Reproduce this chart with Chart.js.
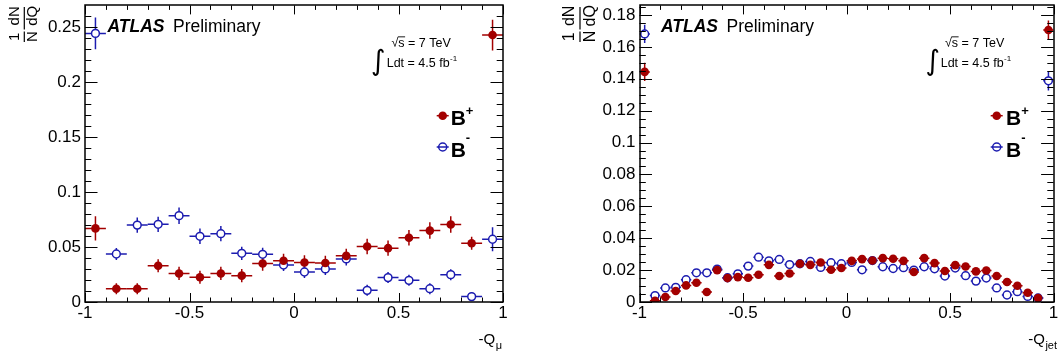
<!DOCTYPE html>
<html><head><meta charset="utf-8">
<script src="https://cdn.jsdelivr.net/npm/chart.js@4.4.0/dist/chart.umd.min.js"></script>
<style>
html,body{margin:0;padding:0;background:#fff;overflow:hidden}
#wrap{position:relative;width:1059px;height:361px;background:#fff}
canvas{position:absolute;top:0}
</style></head><body>
<div id="wrap">
<canvas id="c1" width="530" height="361" style="left:0px"></canvas>
<canvas id="c2" width="529" height="361" style="left:530px"></canvas>
</div>
<script>
// ---------- data: left panel (-Q_mu), 20 bins ----------
const muBins = [-0.95,-0.85,-0.75,-0.65,-0.55,-0.45,-0.35,-0.25,-0.15,-0.05,0.05,0.15,0.25,0.35,0.45,0.55,0.65,0.75,0.85,0.95];
const muBplus = [0.067,0.012,0.012,0.033,0.026,0.0225,0.026,0.024,0.035,0.0375,0.036,0.0355,0.042,0.0505,0.049,0.0585,0.065,0.0705,0.0535,0.243];
const muBplusErr = [0.011,0.005,0.005,0.006,0.006,0.006,0.006,0.006,0.0065,0.0065,0.0065,0.0065,0.0065,0.007,0.007,0.007,0.0075,0.0075,0.006,0.014];
const muBminus = [0.2445,0.0437,0.070,0.0707,0.0786,0.0598,0.0622,0.0443,0.0434,0.0337,0.0273,0.0301,0.0392,0.0106,0.0222,0.0197,0.0121,0.0249,0.0049,0.0571];
const muBminusErr = [0.0145,0.0055,0.007,0.007,0.0075,0.007,0.007,0.006,0.006,0.0055,0.0055,0.0055,0.006,0.005,0.005,0.005,0.005,0.005,0.004,0.011];

// ---------- data: right panel (-Q_jet), 40 bins ----------
const jetBins = [-0.975,-0.925,-0.875,-0.825,-0.775,-0.725,-0.675,-0.625,-0.575,-0.525,-0.475,-0.425,-0.375,-0.325,-0.275,-0.225,-0.175,-0.125,-0.075,-0.025,
                 0.025,0.075,0.125,0.175,0.225,0.275,0.325,0.375,0.425,0.475,0.525,0.575,0.625,0.675,0.725,0.775,0.825,0.875,0.925,0.975];
const jetBplus = [0.1443,0.0008,0.0031,0.0069,0.0104,0.0121,0.0063,0.0200,0.0150,0.0156,0.0152,0.0171,0.0233,0.0163,0.0179,0.0240,0.0233,0.0248,0.0202,0.0213,
                  0.0258,0.0269,0.0260,0.0275,0.0271,0.0258,0.0188,0.0275,0.0244,0.0194,0.0231,0.0223,0.0192,0.0198,0.0163,0.0125,0.0102,0.0058,0.0025,0.1706];
const jetBplusErr = [0.0057,0.0008,0.0012,0.0012,0.0012,0.0012,0.0012,0.0012,0.0012,0.0012,0.0012,0.0012,0.0012,0.0012,0.0012,0.0012,0.0012,0.0012,0.0012,0.0012,
                     0.0012,0.0012,0.0012,0.0012,0.0012,0.0012,0.0012,0.0012,0.0012,0.0012,0.0012,0.0012,0.0012,0.0012,0.0012,0.0012,0.0012,0.0012,0.0010,0.006];
const jetBminus = [0.1681,0.0040,0.0088,0.0092,0.0140,0.0183,0.0183,0.0206,0.0152,0.0177,0.0225,0.0281,0.0258,0.0267,0.0235,0.0240,0.0254,0.0217,0.0246,0.0240,
                   0.0248,0.0202,0.0260,0.0221,0.0210,0.0215,0.0200,0.0221,0.0208,0.0163,0.0213,0.0165,0.0131,0.0150,0.0088,0.0044,0.0065,0.0035,0.0025,0.1387];
const jetBminusErr = [0.0057,0.0010,0.0012,0.0012,0.0012,0.0012,0.0012,0.0012,0.0012,0.0012,0.0012,0.0012,0.0012,0.0012,0.0012,0.0012,0.0012,0.0012,0.0012,0.0012,
                      0.0012,0.0012,0.0012,0.0012,0.0012,0.0012,0.0012,0.0012,0.0012,0.0012,0.0012,0.0012,0.0012,0.0012,0.0012,0.0012,0.0012,0.0012,0.0010,0.006];

// ---------- ticks ----------
const xTickValues = [-1,-0.5,0,0.5,1];
const xTickLabels = ['-1','-0.5','0','0.5','1'];
const muYTickValues = [0,0.05,0.1,0.15,0.2,0.25];
const muYTickLabels = ['0','0.05','0.1','0.15','0.2','0.25'];
const jetYTickValues = [0,0.02,0.04,0.06,0.08,0.1,0.12,0.14,0.16,0.18];
const jetYTickLabels = ['0','0.02','0.04','0.06','0.08','0.1','0.12','0.14','0.16','0.18'];

const FONT = '"Liberation Sans", Arial, Helvetica, sans-serif';
const RED = '#a30000';
const BLUE = '#1c1cb0';

function minorList(min, max, step) {
  const out = [];
  const n = Math.round((max - min) / step);
  for (let i = 0; i <= n; i++) out.push(Math.round((min + i * step) * 10000) / 10000);
  return out;
}

const errorBarPlugin = {
  id: 'errbars',
  beforeDatasetsDraw(chart) {
    const c = chart.ctx, a = chart.chartArea;
    const xs = chart.scales.x, ys = chart.scales.y;
    c.save();
    c.beginPath(); c.rect(a.left, a.top, a.right - a.left, a.bottom - a.top); c.clip();
    c.lineWidth = 1.5;
    chart.data.datasets.forEach(ds => {
      c.strokeStyle = ds.borderColor;
      ds.data.forEach((p, i) => {
        const y = ys.getPixelForValue(p.y);
        const x = xs.getPixelForValue(p.x);
        const x0 = xs.getPixelForValue(p.x - ds.halfW), x1 = xs.getPixelForValue(p.x + ds.halfW);
        const e = ds.errY[i];
        const y0 = ys.getPixelForValue(p.y - e), y1 = ys.getPixelForValue(p.y + e);
        c.beginPath();
        c.moveTo(x0, y); c.lineTo(x1, y);
        c.moveTo(x, y0); c.lineTo(x, y1);
        c.stroke();
      });
    });
    c.restore();
  }
};

function makeDecor(o) {
  return {
    id: 'decor',
    afterDraw(chart) {
      const c = chart.ctx, a = chart.chartArea;
      const xs = chart.scales.x, ys = chart.scales.y;
      c.save();
      // ticks (inward, all four sides)
      c.strokeStyle = '#000'; c.lineWidth = 1;
      const xMaj = 9, xMin = 4.5, yMaj = 12.5, yMin = 6.3;
      minorList(-1, 1, 0.1).forEach(v => {
        const isMaj = xTickValues.some(t => Math.abs(t - v) < 1e-6);
        const L = isMaj ? xMaj : xMin;
        const px = Math.round(xs.getPixelForValue(v)) + 0.5;
        c.beginPath();
        c.moveTo(px, a.bottom); c.lineTo(px, a.bottom - L);
        c.moveTo(px, a.top); c.lineTo(px, a.top + L);
        c.stroke();
      });
      minorList(0, o.yMax, o.yMinorStep).forEach(v => {
        if (v >= o.yMax - 1e-9) return;
        const isMaj = o.yTicks.some(t => Math.abs(t - v) < 1e-6);
        const L = isMaj ? yMaj : yMin;
        const py = Math.round(ys.getPixelForValue(v)) + 0.5;
        c.beginPath();
        c.moveTo(a.left, py); c.lineTo(a.left + L, py);
        c.moveTo(a.right, py); c.lineTo(a.right - L, py);
        c.stroke();
      });
      // frame
      c.lineWidth = 1.5;
      c.strokeRect(Math.round(a.left), Math.round(a.top), Math.round(a.right) - Math.round(a.left), Math.round(a.bottom) - Math.round(a.top));

      c.fillStyle = '#000';
      c.textBaseline = 'alphabetic';
      c.textAlign = 'left';
      // ATLAS Preliminary
      c.font = 'italic bold 17.5px ' + FONT;
      c.fillText('ATLAS', o.atlasX, 32.3);
      c.font = '17.5px ' + FONT;
      c.fillText('Preliminary', o.atlasX + 65.5, 32.3);

      // sqrt(s) = 7 TeV
      c.font = '12.5px ' + FONT;
      const sq = '\u221A';
      c.fillText(sq, o.sqrtX, 46.7);
      const wsq = c.measureText(sq).width;
      c.fillText('s = 7 TeV', o.sqrtX + wsq, 46.7);
      const ws = c.measureText('s').width;
      c.fillRect(o.sqrtX + wsq - 0.5, 36.4, ws + 1, 0.9);
      // integral L dt
      c.fillText('Ldt = 4.5 fb', o.ldtX, 67);
      const wl = c.measureText('Ldt = 4.5 fb').width;
      c.font = '8px ' + FONT;
      c.fillText('-1', o.ldtX + wl + 0.5, 61);
      c.font = '30px "DejaVu Sans", sans-serif';
      const m = c.measureText('\u222B');
      const h = m.actualBoundingBoxAscent + m.actualBoundingBoxDescent;
      const sz = 30 * 28 / h;
      c.font = sz.toFixed(2) + 'px "DejaVu Sans", sans-serif';
      const m2 = c.measureText('\u222B');
      c.textAlign = 'center';
      c.fillText('\u222B', o.intX, 76 - m2.actualBoundingBoxDescent);
      c.textAlign = 'left';

      // legend
      c.lineWidth = 1.5;
      c.strokeStyle = RED; c.fillStyle = RED;
      c.beginPath(); c.moveTo(o.legMX - 6, o.legY1); c.lineTo(o.legMX + 6, o.legY1); c.stroke();
      c.beginPath(); c.arc(o.legMX, o.legY1, 4.3, 0, Math.PI * 2); c.fill();
      c.strokeStyle = BLUE;
      c.beginPath(); c.moveTo(o.legMX - 6, o.legY2); c.lineTo(o.legMX + 6, o.legY2); c.stroke();
      c.beginPath(); c.arc(o.legMX, o.legY2, 4, 0, Math.PI * 2); c.stroke();
      c.fillStyle = '#000';
      c.font = 'bold 21px ' + FONT;
      c.fillText('B', o.legTX, o.legY1 + 9.3);
      c.fillText('B', o.legTX, o.legY2 + 9.5);
      const wb = c.measureText('B').width;
      c.font = 'bold 13px ' + FONT;
      c.fillText('+', o.legTX + wb, o.legY1 - 0.7);
      c.fillText('-', o.legTX + wb, o.legY2 - 5);

      // y title: (1/N)(dN/dQ), rotated
      c.save();
      c.translate(o.fracCX, 0);
      c.rotate(-Math.PI / 2);
      c.font = o.fracFont + 'px ' + FONT;
      c.textAlign = 'center';
      c.textBaseline = 'middle';
      // frac 1 : 1 / N  (centred at screen y=36.5)
      c.fillText('1', -36.8, -o.fracOff);
      c.fillText('N', -36.5, o.fracOff);
      c.fillRect(-42, -0.6, 10.5, 1.2);
      c.fillText('dN', -15.8, -o.fracOff);
      c.fillText('dQ', -15.8, o.fracOff);
      c.fillRect(-29.5, -0.6, 22.5, 1.2);
      c.restore();

      // x title
      c.font = '15px ' + FONT;
      const wQ = c.measureText('-Q').width;
      c.font = '11px ' + FONT;
      const wS = c.measureText(o.xSub).width;
      const x0 = o.xTitleEnd - wQ - wS - 0.5;
      c.font = '15px ' + FONT;
      c.fillText('-Q', x0, 344);
      c.font = '11px ' + FONT;
      c.fillText(o.xSub, x0 + wQ + 0.5, 348.5);
      c.restore();
    }
  };
}

function makeChart(id, o) {
  const el = document.getElementById(id);
  return new Chart(el, {
    type: 'scatter',
    data: {
      datasets: [
        { label: 'B+', data: o.bins.map((x, i) => ({ x: x, y: o.plus[i] })), errY: o.plusErr, halfW: o.halfW,
          pointStyle: 'circle', pointRadius: 4.3, pointHoverRadius: 4.3, backgroundColor: RED, borderColor: RED, borderWidth: 0 },
        { label: 'B-', data: o.bins.map((x, i) => ({ x: x, y: o.minus[i] })), errY: o.minusErr, halfW: o.halfW,
          pointStyle: 'circle', pointRadius: 3.9, pointHoverRadius: 3.9, backgroundColor: '#ffffff', borderColor: BLUE, borderWidth: 1.5 }
      ]
    },
    options: {
      responsive: false, animation: false, devicePixelRatio: 1, events: [],
      layout: { padding: { left: 0, right: o.padRight, top: 5, bottom: 0 } },
      plugins: { legend: { display: false }, tooltip: { enabled: false } },
      scales: {
        x: {
          type: 'linear', min: -1, max: 1,
          afterBuildTicks: s => { s.ticks = xTickValues.map(v => ({ value: v })); },
          ticks: { callback: (v, i) => xTickLabels[i], font: { family: FONT, size: 17 }, color: '#000', padding: 1, maxRotation: 0, autoSkip: false },
          grid: { display: false, drawTicks: false }, border: { display: false },
          afterFit: s => { s.height = 59; s.paddingLeft = 0; s.paddingRight = 0; }
        },
        y: {
          type: 'linear', min: 0, max: o.yMax,
          afterBuildTicks: s => { s.ticks = o.yTicks.map(v => ({ value: v })); },
          ticks: { callback: (v, i) => o.yLabels[i], font: { family: FONT, size: 17 }, color: '#000', padding: 4, autoSkip: false },
          grid: { display: false, drawTicks: false }, border: { display: false },
          afterFit: s => { s.width = o.yAxisWidth; s.paddingTop = 0; s.paddingBottom = 0; }
        }
      }
    },
    plugins: [errorBarPlugin, makeDecor(o)]
  });
}

makeChart('c1', {
  bins: muBins, plus: muBplus, plusErr: muBplusErr, minus: muBminus, minusErr: muBminusErr, halfW: 0.05,
  yMax: 0.27, yTicks: muYTickValues, yLabels: muYTickLabels, yMinorStep: 0.01,
  yAxisWidth: 85, padRight: 27,
  atlasX: 107.5, sqrtX: 391.5, ldtX: 386.7, intX: 378.3,
  legMX: 442.7, legTX: 450.7, legY1: 115.7, legY2: 147,
  fracCX: 24.3, fracOff: 9, fracFont: 15,
  xTitleEnd: 502, xSub: '\u03BC'
});
makeChart('c2', {
  bins: jetBins, plus: jetBplus, plusErr: jetBplusErr, minus: jetBminus, minusErr: jetBminusErr, halfW: 0.025,
  yMax: 0.186, yTicks: jetYTickValues, yLabels: jetYTickLabels, yMinorStep: 0.005,
  yAxisWidth: 109.5, padRight: 4,
  atlasX: 131, sqrtX: 415, ldtX: 410.7, intX: 402.7,
  legMX: 466.7, legTX: 476, legY1: 115.7, legY2: 147,
  fracCX: 50, fracOff: 10.5, fracFont: 16,
  xTitleEnd: 527, xSub: 'jet'
});
</script>
</body></html>
